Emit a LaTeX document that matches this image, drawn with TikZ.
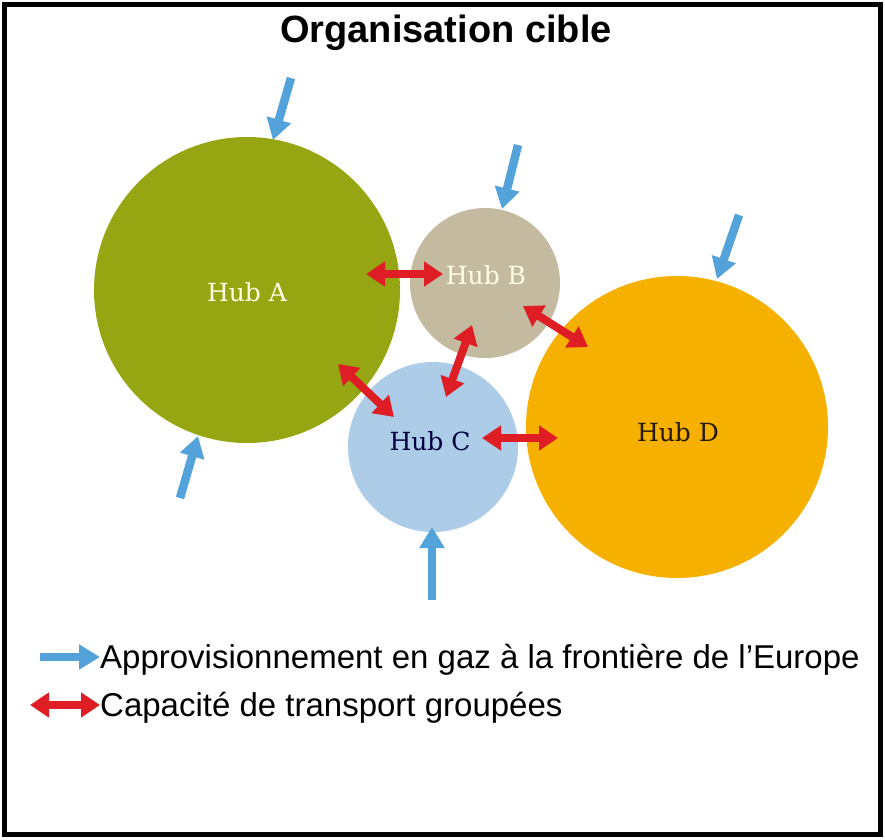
\documentclass[tikz,border=0pt]{standalone}
\usepackage{fontspec}
\setmainfont{Liberation Sans}
\newfontfamily\hubfont{DejaVu Serif}
\usetikzlibrary{arrows.meta}

\definecolor{hubgreen}{RGB}{150,166,18}
\definecolor{hubbeige}{RGB}{196,186,160}
\definecolor{hubblue}{RGB}{172,204,232}
\definecolor{huborange}{RGB}{246,176,0}
\definecolor{supplyblue}{RGB}{84,162,218}
\definecolor{linkred}{RGB}{222,30,36}

\tikzset{
  hub/.style={circle,inner sep=0pt,font=\hubfont\fontsize{25}{28}\selectfont},
  supply/.style={supplyblue,line width=8.5pt,-{Triangle[width=24pt,length=21pt]}},
  link/.style={linkred,line width=8pt,{Triangle[width=24pt,length=19pt]}-{Triangle[width=24pt,length=19pt]}},
  legend/.style={anchor=west,inner sep=0pt,font=\fontsize{33}{36}\selectfont}
}

\begin{document}
\begin{tikzpicture}[x=1pt,y=-1pt]
        % Frame
        \useasboundingbox (0,0) rectangle (885,839);
        \draw[line width=5pt] (4.5,4.5) rectangle (880.5,834.5);

        % Title
        \node[font=\bfseries\fontsize{38}{40}\selectfont] (title) at (446,33) {Organisation cible};

        % Hubs
        \node[hub,fill=hubgreen,minimum size=306pt] (hubA) at (247,290) {};
        \node[hub,fill=hubbeige,minimum size=150pt] (hubB) at (485,283) {};
        \node[hub,fill=hubblue,minimum size=170pt] (hubC) at (433,447) {};
        \node[hub,fill=huborange,minimum size=302pt] (hubD) at (677,427) {};

        % Hub labels
        \node[hub,text=white!90!yellow] (labA) at (247,292) {Hub A};
        \node[hub,text=white!90!yellow] (labB) at (486,275) {Hub B};
        \node[hub,text=black!75!blue] (labC) at (430,441) {Hub C};
        \node[hub,text=black!80!brown] (labD) at (678,432) {Hub D};

        % Supply arrows
        \coordinate (inA1) at (291,78);
        \coordinate (inA2) at (180,498);
        \coordinate (inB) at (518,145);
        \coordinate (inC) at (432,600);
        \coordinate (inD) at (739,215);
        \coordinate (tipA1) at (273,140);
        \coordinate (tipA2) at (198,436);
        \coordinate (tipB) at (502,209);
        \coordinate (tipC) at (432,527);
        \coordinate (tipD) at (717,279);
        \draw[supply] (inA1) -- (tipA1);
        \draw[supply] (inA2) -- (tipA2);
        \draw[supply] (inB) -- (tipB);
        \draw[supply] (inC) -- (tipC);
        \draw[supply] (inD) -- (tipD);

        % Transport links
        \coordinate (ab1) at (366,274);
        \coordinate (ab2) at (443,274);
        \coordinate (bd1) at (523,306);
        \coordinate (bd2) at (588,347);
        \coordinate (bc1) at (472,325);
        \coordinate (bc2) at (446,397);
        \coordinate (ac1) at (338,364);
        \coordinate (ac2) at (394,417);
        \coordinate (cd1) at (482,438);
        \coordinate (cd2) at (558,438);
        \draw[link] (ab1) -- (ab2);
        \draw[link] (bd1) -- (bd2);
        \draw[link] (bc1) -- (bc2);
        \draw[link] (ac1) -- (ac2);
        \draw[link] (cd1) -- (cd2);

        % Legend
        \node[legend] (supplytext) at (100,660) {Approvisionnement en gaz à la frontière de l’Europe};
        \node[legend] (linktext) at (100,708) {Capacité de transport groupées};
        \coordinate (key1) at (40,657);
        \coordinate (key2) at (30,705);
        \draw[supply] (key1) -- (key1 -| supplytext.west);
        \draw[link] (key2) -- (key2 -| linktext.west);
\end{tikzpicture}
\end{document}
